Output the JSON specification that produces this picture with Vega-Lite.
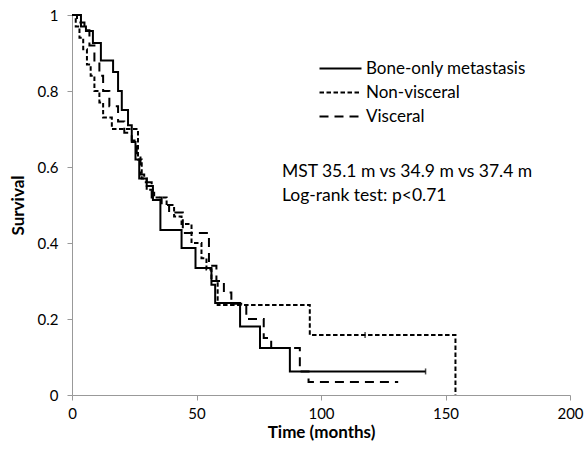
{
  "$schema": "https://vega.github.io/schema/vega-lite/v6.json",
  "autosize": "none",
  "width": 498,
  "height": 380,
  "padding": {"left": 72, "top": 15, "right": 18, "bottom": 57},
  "background": "white",
  "config": {
    "font": "Lato",
    "view": {"stroke": null},
    "axis": {"grid": false, "domainColor": "#999999", "tickColor": "#999999", "labelColor": "#000000", "labelFont": "Lato", "labelFontSize": 15, "labelFlush": false, "titleFont": "Lato", "titleFontSize": 17, "titleFontWeight": "bold", "titleColor": "#000000", "tickSize": 5}
  },
  "datasets": {
    "curves": [
      {"g": "Bone-only metastasis", "t": 0, "s": 1.0},
      {"g": "Bone-only metastasis", "t": 3.6, "s": 0.97},
      {"g": "Bone-only metastasis", "t": 5.6, "s": 0.958},
      {"g": "Bone-only metastasis", "t": 8.4, "s": 0.926},
      {"g": "Bone-only metastasis", "t": 11.6, "s": 0.88},
      {"g": "Bone-only metastasis", "t": 16.5, "s": 0.85},
      {"g": "Bone-only metastasis", "t": 18.5, "s": 0.8},
      {"g": "Bone-only metastasis", "t": 20, "s": 0.75},
      {"g": "Bone-only metastasis", "t": 22.5, "s": 0.71},
      {"g": "Bone-only metastasis", "t": 24, "s": 0.666},
      {"g": "Bone-only metastasis", "t": 25.5, "s": 0.62},
      {"g": "Bone-only metastasis", "t": 27, "s": 0.57},
      {"g": "Bone-only metastasis", "t": 30, "s": 0.55},
      {"g": "Bone-only metastasis", "t": 32.5, "s": 0.513},
      {"g": "Bone-only metastasis", "t": 35.5, "s": 0.434},
      {"g": "Bone-only metastasis", "t": 44, "s": 0.387},
      {"g": "Bone-only metastasis", "t": 49.6, "s": 0.334},
      {"g": "Bone-only metastasis", "t": 56, "s": 0.29},
      {"g": "Bone-only metastasis", "t": 57.5, "s": 0.242},
      {"g": "Bone-only metastasis", "t": 67.5, "s": 0.18},
      {"g": "Bone-only metastasis", "t": 75.5, "s": 0.124},
      {"g": "Bone-only metastasis", "t": 87.5, "s": 0.062},
      {"g": "Bone-only metastasis", "t": 142, "s": 0.062},
      {"g": "Non-visceral", "t": 0, "s": 1.0},
      {"g": "Non-visceral", "t": 1.5, "s": 0.97},
      {"g": "Non-visceral", "t": 3, "s": 0.94},
      {"g": "Non-visceral", "t": 4.5, "s": 0.91},
      {"g": "Non-visceral", "t": 6, "s": 0.87},
      {"g": "Non-visceral", "t": 7.5, "s": 0.84},
      {"g": "Non-visceral", "t": 9, "s": 0.8},
      {"g": "Non-visceral", "t": 11, "s": 0.77},
      {"g": "Non-visceral", "t": 12.5, "s": 0.73},
      {"g": "Non-visceral", "t": 16, "s": 0.7},
      {"g": "Non-visceral", "t": 26.5, "s": 0.62},
      {"g": "Non-visceral", "t": 28, "s": 0.57},
      {"g": "Non-visceral", "t": 30, "s": 0.54},
      {"g": "Non-visceral", "t": 33, "s": 0.52},
      {"g": "Non-visceral", "t": 38, "s": 0.5},
      {"g": "Non-visceral", "t": 41, "s": 0.47},
      {"g": "Non-visceral", "t": 44, "s": 0.45},
      {"g": "Non-visceral", "t": 48, "s": 0.4},
      {"g": "Non-visceral", "t": 52, "s": 0.36},
      {"g": "Non-visceral", "t": 54, "s": 0.33},
      {"g": "Non-visceral", "t": 56, "s": 0.3},
      {"g": "Non-visceral", "t": 58.5, "s": 0.237},
      {"g": "Non-visceral", "t": 95.5, "s": 0.158},
      {"g": "Non-visceral", "t": 154, "s": 0.0},
      {"g": "Visceral", "t": 0, "s": 1.0},
      {"g": "Visceral", "t": 2, "s": 0.98},
      {"g": "Visceral", "t": 5, "s": 0.96},
      {"g": "Visceral", "t": 7, "s": 0.92},
      {"g": "Visceral", "t": 9, "s": 0.88},
      {"g": "Visceral", "t": 11, "s": 0.84},
      {"g": "Visceral", "t": 12.5, "s": 0.8},
      {"g": "Visceral", "t": 15, "s": 0.76},
      {"g": "Visceral", "t": 18.5, "s": 0.72},
      {"g": "Visceral", "t": 21, "s": 0.69},
      {"g": "Visceral", "t": 24, "s": 0.67},
      {"g": "Visceral", "t": 26, "s": 0.63},
      {"g": "Visceral", "t": 27.5, "s": 0.58},
      {"g": "Visceral", "t": 29, "s": 0.56},
      {"g": "Visceral", "t": 32, "s": 0.52},
      {"g": "Visceral", "t": 36, "s": 0.5},
      {"g": "Visceral", "t": 39, "s": 0.48},
      {"g": "Visceral", "t": 44.5, "s": 0.426},
      {"g": "Visceral", "t": 55, "s": 0.34},
      {"g": "Visceral", "t": 58, "s": 0.3},
      {"g": "Visceral", "t": 61, "s": 0.27},
      {"g": "Visceral", "t": 64, "s": 0.24},
      {"g": "Visceral", "t": 70, "s": 0.2},
      {"g": "Visceral", "t": 77, "s": 0.15},
      {"g": "Visceral", "t": 80, "s": 0.124},
      {"g": "Visceral", "t": 91.5, "s": 0.062},
      {"g": "Visceral", "t": 95, "s": 0.034},
      {"g": "Visceral", "t": 131, "s": 0.034}
    ],
    "censor": [
      {"t": 142, "s": 0.062},
      {"t": 117.7, "s": 0.158}
    ],
    "notes": [
      {"t": 84.3, "s": 0.587, "label": "MST 35.1 m vs 34.9 m vs 37.4 m"},
      {"t": 84.3, "s": 0.524, "label": "Log-rank test: p<0.71"}
    ]
  },
  "layer": [
    {
      "data": {"name": "curves"},
      "mark": {"type": "line", "interpolate": "step-after", "color": "black", "strokeWidth": 2},
      "encoding": {
        "x": {"field": "t", "type": "quantitative", "scale": {"domain": [0, 200], "nice": false}, "axis": {"values": [0, 50, 100, 150, 200], "title": "Time (months)", "titlePadding": 3, "labelPadding": 6}},
        "y": {"field": "s", "type": "quantitative", "scale": {"domain": [0, 1], "nice": false}, "axis": {"values": [0, 0.2, 0.4, 0.6, 0.8, 1], "format": "~g", "title": "Survival", "titlePadding": 10, "labelPadding": 9}},
        "strokeDash": {
          "field": "g", "type": "nominal",
          "scale": {"domain": ["Bone-only metastasis", "Non-visceral", "Visceral"], "range": [[1, 0], [4.5, 2.5], [9, 6]]},
          "legend": {"title": null, "orient": "none", "legendX": 257, "legendY": 42, "symbolType": "M-2,0H2", "symbolSize": 441, "symbolStrokeWidth": 2, "symbolStrokeColor": "black", "symbolFillColor": "transparent", "labelFontSize": 17, "labelFont": "Lato", "labelColor": "black", "rowPadding": 4, "labelOffset": 14}
        }
      }
    },
    {
      "data": {"name": "censor"},
      "mark": {"type": "tick", "orient": "vertical", "color": "black", "size": 6, "thickness": 1.5},
      "encoding": {
        "x": {"field": "t", "type": "quantitative"},
        "y": {"field": "s", "type": "quantitative"}
      }
    },
    {
      "data": {"name": "notes"},
      "mark": {"type": "text", "align": "left", "baseline": "middle", "fontSize": 17.5, "font": "Lato", "color": "black"},
      "encoding": {
        "x": {"field": "t", "type": "quantitative"},
        "y": {"field": "s", "type": "quantitative"},
        "text": {"field": "label"}
      }
    }
  ]
}
